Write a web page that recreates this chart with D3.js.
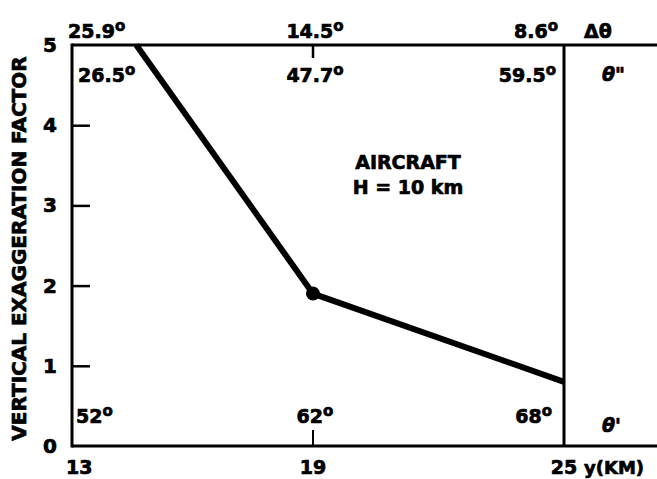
<!DOCTYPE html>
<html>
<head>
<meta charset="utf-8">
<script src="https://cdn.jsdelivr.net/npm/d3@7"></script>
<style>
  body { margin: 0; background: #fff; }
  text { font-family: "DejaVu Sans", sans-serif; font-weight: bold; fill: #000; stroke: #000; stroke-width: 0.7px; }
</style>
</head>
<body>
<div id="container"></div>
<script>
/* DATA */
const yKm = [14.6, 19, 25];
const factor = [5, 1.9, 0.8];
const xTicks = [13, 19, 25];
const yTicks = [0, 1, 2, 3, 4, 5];
const deltaTheta = ["25.9", "14.5", "8.6"];
const thetaDouble = ["26.5", "47.7", "59.5"];
const thetaPrime = ["52", "62", "68"];

const width = 657, height = 479,
  margin = { top: 45, bottom: 33, left: 72, right: 93 };

const svg = d3.select("#container")
  .append("svg")
  .attr("width", width)
  .attr("height", height);

// the original drawing is not quite uniform: 19 sits a little left of centre
const x = d3.scaleLinear().domain([13, 19, 25]).range([margin.left, 313, width - margin.right]);
const y = d3.scaleLinear().domain([0, 5]).range([height - margin.bottom, margin.top]);

// FRAME
const frame = svg.append("g").attr("stroke", "#000").attr("stroke-width", 3);
frame.append("line").attr("x1", x(13)).attr("x2", x(13)).attr("y1", y(5) - 1.5).attr("y2", y(0) + 1.5);
frame.append("line").attr("x1", x(25)).attr("x2", x(25)).attr("y1", y(5)).attr("y2", y(0));
frame.append("line").attr("x1", x(13)).attr("x2", width).attr("y1", y(5)).attr("y2", y(5));
frame.append("line").attr("x1", x(13)).attr("x2", width).attr("y1", y(0)).attr("y2", y(0));

// Y AXIS
const yAxis = svg.append("g")
  .attr("transform", `translate(${x(13)},0)`)
  .call(d3.axisLeft(y).tickValues(yTicks).tickSize(-18).tickPadding(14).tickFormat(d3.format("d")));
yAxis.select(".domain").remove();
yAxis.selectAll(".tick line").attr("stroke-width", 2.5)
  .filter(d => d === 0 || d === 5).remove();
yAxis.selectAll(".tick text")
  .attr("x", -22).attr("text-anchor", "middle")
  .style("font-size", "20px").style("font-family", "DejaVu Sans").style("font-weight", "bold");

// X AXIS LABELS
svg.append("g").selectAll("text")
  .data(xTicks)
  .join("text")
  .attr("x", d => x(d))
  .attr("y", height - 5)
  .attr("text-anchor", (d, i) => i === 0 ? "start" : "middle")
  .attr("dx", (d, i) => i === 0 ? -6 : 0)
  .style("font-size", "19px")
  .text(d => d);
svg.append("text")
  .attr("x", x(25) + 20).attr("y", height - 5)
  .style("font-size", "18px")
  .text("y(KM)");

// middle ticks at 19
svg.append("line").attr("x1", x(19)).attr("x2", x(19))
  .attr("y1", y(5)).attr("y2", y(5) + 13).attr("stroke", "#000").attr("stroke-width", 2.5);
svg.append("line").attr("x1", x(19)).attr("x2", x(19))
  .attr("y1", y(0)).attr("y2", y(0) - 16).attr("stroke", "#000").attr("stroke-width", 2);

// ANGLE LABELS
function degLabel(sel, rows, yPos, anchorPad) {
  sel.selectAll(null)
    .data(rows)
    .join("text")
    .attr("x", (d, i) => x(xTicks[i]) + anchorPad[i])
    .attr("y", yPos)
    .attr("text-anchor", (d, i) => ["start", "middle", "end"][i])
    .style("font-size", "19px")
    .each(function (d) {
      const t = d3.select(this);
      t.append("tspan").text(d);
      t.append("tspan").attr("dy", "-0.5em").style("font-size", "15px").text("o");
    });
}
const labels = svg.append("g");
degLabel(labels, deltaTheta, 38, [-4, 2, -6]);
degLabel(labels, thetaDouble, 82, [6, 2, -8]);
degLabel(labels, thetaPrime, 423, [4, 2, -12]);

svg.append("text").attr("x", x(25) + 20).attr("y", 38).style("font-size", "19px").text("Δθ");
svg.append("text").attr("x", x(25) + 38).attr("y", 81).style("font-size", "19px").style("font-style", "italic").text("θ\"");
svg.append("text").attr("x", x(25) + 38).attr("y", 432).style("font-size", "19px").style("font-style", "italic").text("θ'");

// Y TITLE
svg.append("text")
  .attr("transform", `translate(26,${(y(0) + y(5)) / 2 + 3}) rotate(-90)`)
  .attr("text-anchor", "middle")
  .style("font-size", "20px")
  .text("VERTICAL EXAGGERATION FACTOR");

// ANNOTATION
svg.append("text").attr("x", 408).attr("y", 169).attr("text-anchor", "middle")
  .style("font-size", "19px").text("AIRCRAFT");
svg.append("text").attr("x", 408).attr("y", 194).attr("text-anchor", "middle")
  .style("font-size", "19px").text("H = 10 km");

// DATA LINE
const pts = yKm.map((d, i) => [d, factor[i]]);
svg.append("path")
  .datum(pts)
  .attr("fill", "none")
  .attr("stroke", "#000")
  .attr("stroke-width", 6)
  .attr("d", d3.line().x(d => x(d[0])).y(d => y(d[1])));
svg.append("circle")
  .attr("cx", x(yKm[1])).attr("cy", y(factor[1])).attr("r", 7).attr("fill", "#000");
</script>
</body>
</html>
